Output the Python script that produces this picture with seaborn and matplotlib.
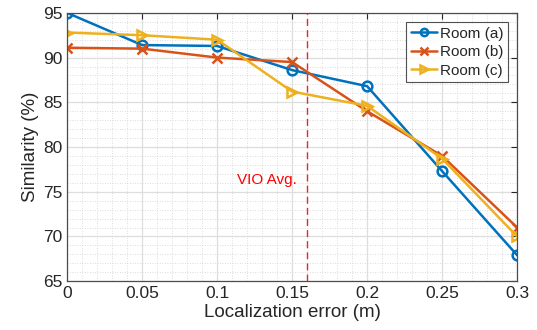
import matplotlib
matplotlib.use("Agg")
import matplotlib.pyplot as plt
import seaborn as sns
import numpy as np
from matplotlib.ticker import MultipleLocator

x_err = [0, 0.05, 0.1, 0.15, 0.2, 0.25, 0.3]
room_a = [95.0, 91.4, 91.3, 88.6, 86.8, 77.3, 67.9]
room_b = [91.1, 91.0, 90.0, 89.5, 84.0, 79.0, 71.0]
room_c = [92.8, 92.5, 92.0, 86.2, 84.6, 78.7, 70.0]
labels = ["Room (a)", "Room (b)", "Room (c)"]
colors = ["#0072BD", "#D95319", "#EDB120"]
markers = ["o", "x", ">"]
vio_avg = 0.16

sns.set_style("white")
plt.rcParams['font.family'] = ['Liberation Sans', 'DejaVu Sans']

fig = plt.figure(figsize=(5.37, 3.3), dpi=100)
ax = fig.add_axes([0.125, 0.148, 0.838, 0.813])

for ys, lab, c, m in zip([room_a, room_b, room_c], labels, colors, markers):
    sns.lineplot(x=x_err, y=ys, ax=ax, color=c, marker=m, label=lab,
                 linewidth=1.8, markersize=7, markerfacecolor='none',
                 markeredgecolor=c, markeredgewidth=1.8)

ax.axvline(vio_avg, color='#E8262A', linestyle=(0, (5, 3)), linewidth=1.0, zorder=1)
ax.text(0.113, 76.3, "VIO Avg.", color='red', fontsize=11, va='center', ha='left')

ax.set_xlim(0, 0.3)
ax.set_ylim(65, 95)
ax.xaxis.set_minor_locator(MultipleLocator(0.01))
ax.yaxis.set_minor_locator(MultipleLocator(1))
ax.set_xticks(x_err)
ax.set_xticklabels(["0", "0.05", "0.1", "0.15", "0.2", "0.25", "0.3"])
ax.set_yticks([65, 70, 75, 80, 85, 90, 95])
ax.grid(which='major', color='#DEDEDE', linewidth=0.9)
ax.grid(which='minor', color='#D0D0D0', linestyle=(0, (1, 2)), linewidth=0.6)
ax.set_axisbelow(True)
ax.tick_params(which='major', direction='in', length=4, top=True, right=True,
               labelsize=12.5, colors='#262626', width=0.8)
ax.tick_params(which='minor', length=0)
for s in ax.spines.values():
    s.set_color('#4D4D4D')
    s.set_linewidth(0.9)
ax.set_xlabel("Localization error (m)", fontsize=13.5, color='#262626', labelpad=2)
ax.set_ylabel("Similarity (%)", fontsize=13.5, color='#262626', labelpad=3)

leg = ax.legend(loc='upper right', fontsize=11, frameon=True, fancybox=False,
                edgecolor='#262626', handlelength=1.7, handletextpad=0.2,
                borderpad=0.3, labelspacing=0.3, borderaxespad=0.6, markerscale=0.75)
leg.get_frame().set_linewidth(0.8)

fig.savefig("out.png", dpi=100)
